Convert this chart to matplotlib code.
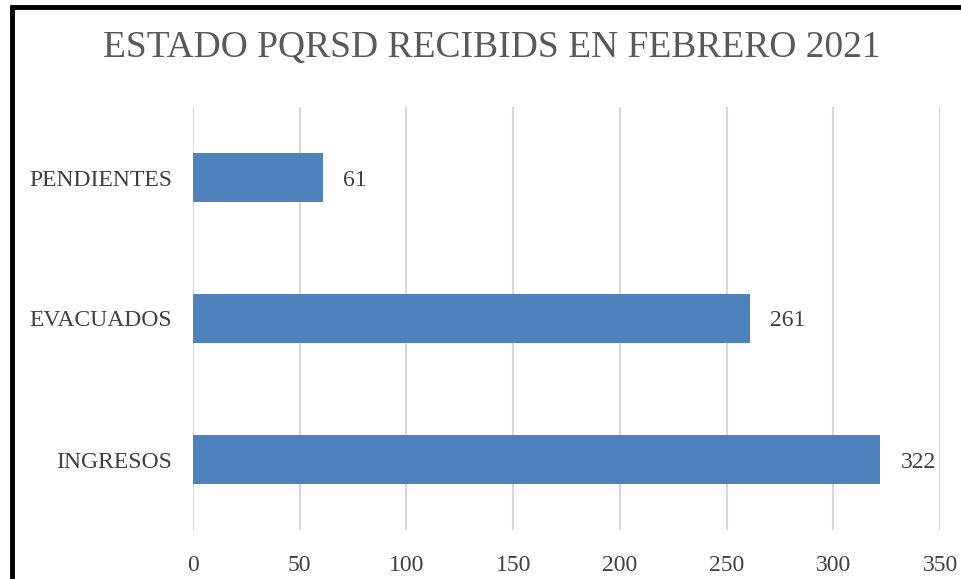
import matplotlib
matplotlib.use("Agg")
import matplotlib.pyplot as plt
from matplotlib.patches import Rectangle

# data
categories = ["INGRESOS", "EVACUADOS", "PENDIENTES"]
values = [322, 261, 61]
xticks = [0, 50, 100, 150, 200, 250, 300, 350]
title = "ESTADO PQRSD RECIBIDS EN FEBRERO 2021"

plt.rcParams['font.family'] = ['Liberation Serif', 'DejaVu Serif']

fig = plt.figure(figsize=(9.61, 5.79), dpi=100)
ax = fig.add_axes([193/961, 1 - 530/579, (940 - 193)/961, (530 - 107)/579])

bars = ax.barh(categories, values, height=0.35, color="#4F81BD", zorder=3)
for b, v in zip(bars, values):
    ax.text(v + 9.5, b.get_y() + b.get_height()/2, str(v), va="center_baseline", ha="left",
            fontsize=17, color="#404040")

ax.set_xlim(0, 350)
ax.set_ylim(-0.5, 2.5)
ax.set_xticks(xticks)
ax.grid(axis="x", color="#D9D9D9", lw=1.5, zorder=0)
for s in ax.spines.values():
    s.set_visible(False)
ax.tick_params(axis="both", length=0, labelsize=17, labelcolor="#404040")
ax.tick_params(axis="x", pad=18)
ax.tick_params(axis="y", pad=15)
for lbl in ax.get_yticklabels():
    lbl.set_verticalalignment("center_baseline")

fig.text(492/961, 1 - 48/579, title, ha="center", va="center", fontsize=27, color="#595959")

# black frame of the pasted chart (cut off at right and bottom)
fig.patches.append(Rectangle((12/961, -0.1), 1.2, 1 - 7/579 + 0.1, transform=fig.transFigure,
                             fill=False, edgecolor="black", lw=3.5))

fig.savefig("out.png", dpi=100)
